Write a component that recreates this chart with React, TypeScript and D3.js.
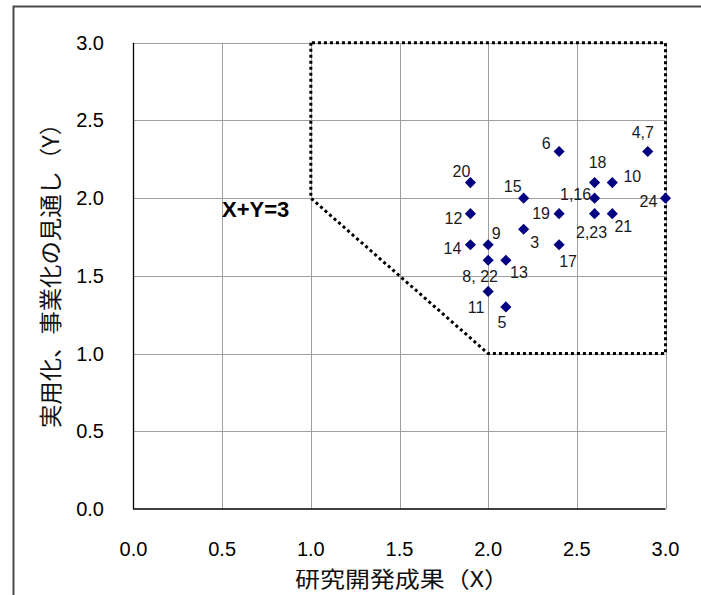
import React, { useRef, useEffect } from 'react';
import * as d3 from 'd3';

// project scores: X = 研究開発成果, Y = 実用化、事業化の見通し
const pointLabels = ['6', '4,7', '20', '18', '10', '15', '1,16', '24', '12', '19', '2,23', '21', '3', '14', '9', '17', '8, 22', '13', '11', '5'];
const xValues = [2.4, 2.9, 1.9, 2.6, 2.7, 2.2, 2.6, 3.0, 1.9, 2.4, 2.6, 2.7, 2.2, 1.9, 2.0, 2.4, 2.0, 2.1, 2.0, 2.1];
const yValues = [2.3, 2.3, 2.1, 2.1, 2.1, 2.0, 2.0, 2.0, 1.9, 1.9, 1.9, 1.9, 1.8, 1.7, 1.7, 1.7, 1.6, 1.6, 1.4, 1.3];

// label placement around each marker (px)
const labelOffsets: [number, number][] = [
  [-13, -8], [-5, -19], [-9, -11], [3, -20], [20, -6], [-11, -12], [-19, -4], [-17, 3],
  [-17, 5], [-18, 0], [-3, 19], [11, 13], [11, 13], [-18, 4], [8, -11], [9, 17],
  [-8, 16], [13, 12], [-12, 16], [-4, 16],
];

// dotted boundary region (X+Y>=3, X>=1, Y>=1)
const regionX = [1.0, 1.0, 2.0, 3.0, 3.0, 1.0];
const regionY = [3.0, 2.0, 1.0, 1.0, 3.0, 3.0];

const tickValues = [0, 0.5, 1.0, 1.5, 2.0, 2.5, 3.0];

const W = 701;
const H = 595;
const margin = { left: 133.5, right: 665.5, top: 42.7, bottom: 509 };

const App: React.FC = () => {
  const svgRef = useRef<SVGSVGElement>(null);

  useEffect(() => {
    if (!svgRef.current) return;
    const svg = d3.select(svgRef.current);
    svg.selectAll('*').remove();

    const x = d3.scaleLinear().domain([0, 3]).range([margin.left, margin.right]);
    const y = d3.scaleLinear().domain([0, 3]).range([margin.bottom, margin.top]);

    svg.append('rect').attr('width', W).attr('height', H).attr('fill', '#fff');

    // outer chart frame (runs off the right/bottom of the picture)
    svg.append('rect')
      .attr('x', 13.5).attr('y', 6.5)
      .attr('width', W + 20).attr('height', H + 20)
      .attr('fill', 'none').attr('stroke', '#4a4a4a').attr('stroke-width', 2);

    // gridlines
    const grid = svg.append('g').attr('stroke', '#a0a0a0').attr('stroke-width', 1);
    tickValues.slice(1).forEach(t => {
      grid.append('line')
        .attr('x1', Math.round(x(t)) + 0.5).attr('x2', Math.round(x(t)) + 0.5)
        .attr('y1', margin.top).attr('y2', margin.bottom);
      grid.append('line')
        .attr('x1', margin.left).attr('x2', margin.right)
        .attr('y1', Math.round(y(t)) + 0.5).attr('y2', Math.round(y(t)) + 0.5);
    });

    // axes lines
    svg.append('line')
      .attr('x1', margin.left).attr('x2', margin.left)
      .attr('y1', margin.top).attr('y2', margin.bottom + 0.5)
      .attr('stroke', '#000').attr('stroke-width', 1.3);
    svg.append('line')
      .attr('x1', margin.left).attr('x2', margin.right)
      .attr('y1', margin.bottom).attr('y2', margin.bottom)
      .attr('stroke', '#000').attr('stroke-width', 1.3);

    // tick labels
    const tickFont = '"Liberation Sans", Arial, sans-serif';
    svg.append('g').selectAll('text')
      .data(tickValues)
      .join('text')
      .attr('x', 104)
      .attr('y', d => y(d) + 7)
      .attr('text-anchor', 'end')
      .attr('font-family', tickFont)
      .attr('font-size', 20)
      .attr('fill', '#000')
      .text(d => d.toFixed(1));

    svg.append('g').selectAll('text')
      .data(tickValues)
      .join('text')
      .attr('x', d => x(d))
      .attr('y', 556)
      .attr('text-anchor', 'middle')
      .attr('font-family', tickFont)
      .attr('font-size', 20)
      .attr('fill', '#000')
      .text(d => d.toFixed(1));

    // axis titles
    const cjkFont = '"Noto Sans CJK JP", "Noto Sans", sans-serif';
    svg.append('text')
      .attr('transform', 'translate(59,270) rotate(-90)')
      .attr('x', -158)
      .attr('textLength', 316)
      .attr('lengthAdjust', 'spacingAndGlyphs')
      .attr('font-family', cjkFont)
      .attr('font-size', 22.5)
      .attr('fill', '#111')
      .text('実用化、事業化の見通し（Y）');

    svg.append('text')
      .attr('x', 295).attr('y', 587)
      .attr('textLength', 214)
      .attr('lengthAdjust', 'spacingAndGlyphs')
      .attr('font-family', cjkFont)
      .attr('font-size', 22)
      .attr('fill', '#111')
      .text('研究開発成果（X）');

    // dotted region boundary
    const line = d3.line<number>()
      .x(i => x(regionX[i]))
      .y(i => y(regionY[i]));
    svg.append('path')
      .attr('d', line(d3.range(regionX.length)))
      .attr('fill', 'none')
      .attr('stroke', '#000')
      .attr('stroke-width', 3)
      .attr('stroke-dasharray', '3,3');

    svg.append('text')
      .attr('x', 222).attr('y', 217)
      .attr('font-family', tickFont)
      .attr('font-weight', 'bold')
      .attr('font-size', 22)
      .attr('fill', '#000')
      .text('X+Y=3');

    // markers
    const diamond = d3.symbol().type(d3.symbolSquare).size(62);
    svg.append('g').selectAll('path')
      .data(d3.range(xValues.length))
      .join('path')
      .attr('d', diamond)
      .attr('transform', i => `translate(${x(xValues[i])},${y(yValues[i])}) rotate(45)`)
      .attr('fill', '#000080');

    svg.append('g').selectAll('text')
      .data(d3.range(xValues.length))
      .join('text')
      .attr('x', i => x(xValues[i]) + labelOffsets[i][0])
      .attr('y', i => y(yValues[i]) + labelOffsets[i][1])
      .attr('text-anchor', 'middle')
      .attr('dominant-baseline', 'central')
      .attr('font-family', tickFont)
      .attr('font-size', 16)
      .attr('fill', '#1a1a1a')
      .text(i => pointLabels[i]);
  }, []);

  return (
    <div style={{ position: 'absolute', left: 0, top: 0 }}>
      <svg ref={svgRef} width={W} height={H} style={{ display: 'block' }} />
    </div>
  );
};

export default App;
